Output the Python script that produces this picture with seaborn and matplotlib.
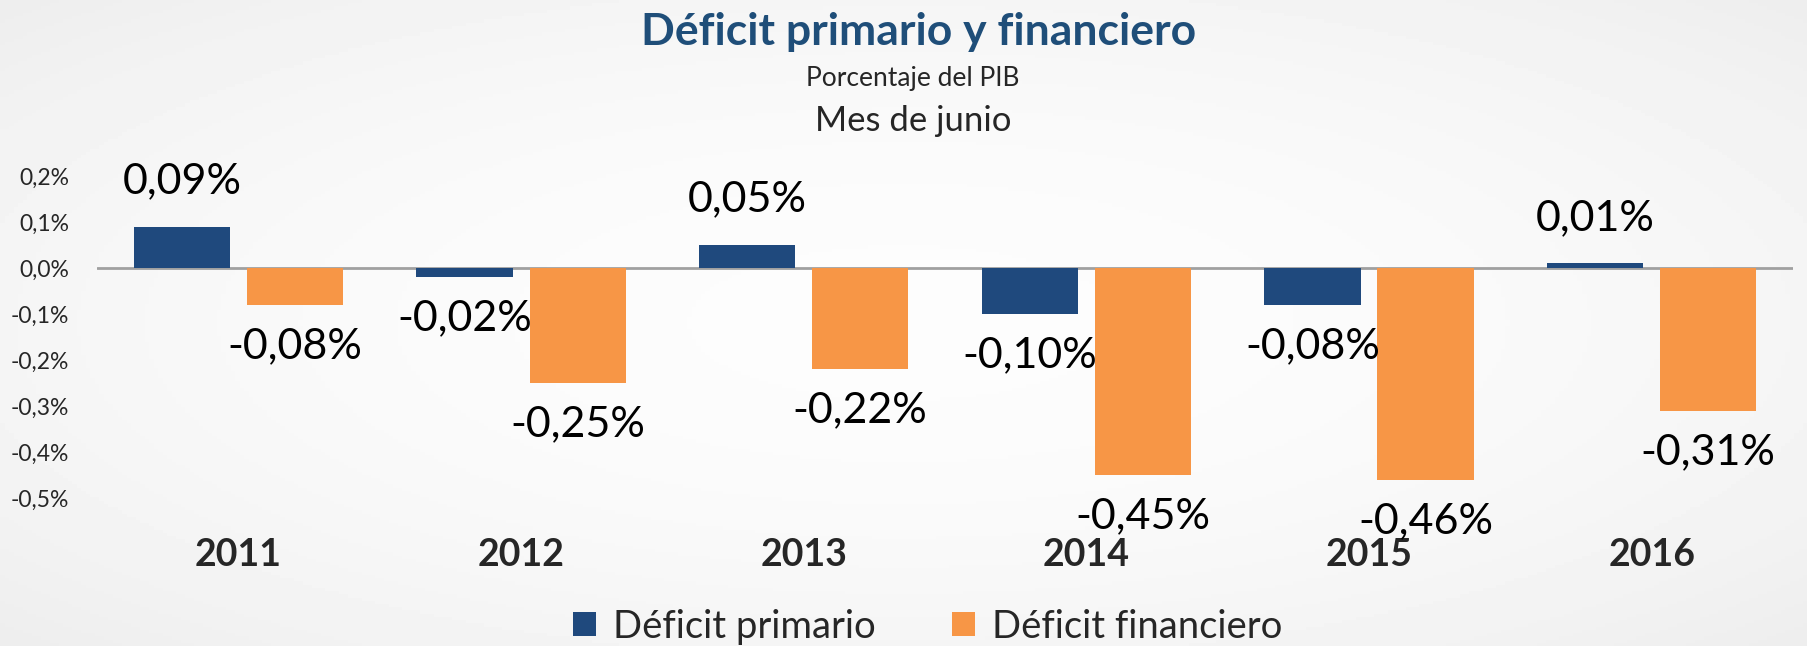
import numpy as np
import pandas as pd
import matplotlib.pyplot as plt
import seaborn as sns
from matplotlib.patches import Patch

# Datos del grafico (porcentaje del PIB, mes de junio)
years = ['2011', '2012', '2013', '2014', '2015', '2016']
deficit_primario = [0.09, -0.02, 0.05, -0.10, -0.08, 0.01]
deficit_financiero = [-0.08, -0.25, -0.22, -0.45, -0.46, -0.31]
y_ticks = [0.2, 0.1, 0.0, -0.1, -0.2, -0.3, -0.4, -0.5]

series_names = ['Déficit primario', 'Déficit financiero']
colors = ['#1F497D', '#F79646']

df = pd.DataFrame({
    'Year': years * 2,
    'Serie': [series_names[0]] * len(years) + [series_names[1]] * len(years),
    'Valor': deficit_primario + deficit_financiero,
})

sns.set_style('white')
plt.rcParams['font.family'] = ['Lato', 'DejaVu Sans']

fig = plt.figure(figsize=(18.08, 6.46), dpi=100)

# fondo con degradado suave (blanco al centro, gris claro en los bordes)
bg = fig.add_axes([0, 0, 1, 1], zorder=-10)
yy, xx = np.mgrid[-1:1:200j, -1:1:400j]
r2 = (xx ** 2 + yy ** 2) / 2
shade = 0.99 - 0.06 * r2
bg.imshow(shade, cmap='gray', vmin=0, vmax=1, aspect='auto', extent=[0, 1, 0, 1])
bg.axis('off')

ax = fig.add_axes([0.0537, 0.229, 0.938, 0.4985])
ax.patch.set_alpha(0)

sns.barplot(data=df, x='Year', y='Valor', hue='Serie', palette=colors,
            width=0.8, gap=0.15, saturation=1, legend=False,
            edgecolor='none', linewidth=0, ax=ax)

ax.set_ylim(-0.5, 0.2)
ax.set_xlim(-0.5, 5.5)
ax.axhline(0, color='#A0A0A0', lw=2, zorder=0.5)

# etiquetas de datos
for container in ax.containers:
    for bar in container:
        v = bar.get_height()
        x = bar.get_x() + bar.get_width() / 2
        txt = f'{v:.2f}%'.replace('.', ',')
        if v >= 0:
            ax.annotate(txt, (x, v), xytext=(0, 19), textcoords='offset points',
                        ha='center', va='bottom', fontsize=31, color='black')
        else:
            ax.annotate(txt, (x, v), xytext=(0, -16), textcoords='offset points',
                        ha='center', va='top', fontsize=31, color='black')

ax.set_yticks(y_ticks)
ax.set_yticklabels([f'{t:.1f}%'.replace('.', ',') for t in y_ticks], fontsize=16.5)
ax.set_xticks(range(len(years)))
ax.set_xticklabels(years, fontsize=27, fontweight='bold')
ax.tick_params(axis='x', length=0, pad=29)
ax.tick_params(axis='y', length=0, pad=20)
ax.set_xlabel('')
ax.set_ylabel('')
sns.despine(ax=ax, left=True, bottom=True)

# titulos
fig.text(0.508, 0.951, 'Déficit primario y financiero', ha='center', va='center',
         fontsize=32, fontweight='bold', color='#1F4E79')
fig.text(0.505, 0.879, 'Porcentaje del PIB', ha='center', va='center', fontsize=19)
fig.text(0.505, 0.812, 'Mes de junio', ha='center', va='center', fontsize=25)

# leyenda
handles = [Patch(facecolor=c, edgecolor='none') for c in colors]
fig.legend(handles, series_names, loc='center', bbox_to_anchor=(0.513, 0.03), ncol=2,
           frameon=False, fontsize=27.5, handlelength=0.6, handleheight=0.6,
           handletextpad=0.45, columnspacing=2.0)

plt.savefig('out.png', dpi=100)
